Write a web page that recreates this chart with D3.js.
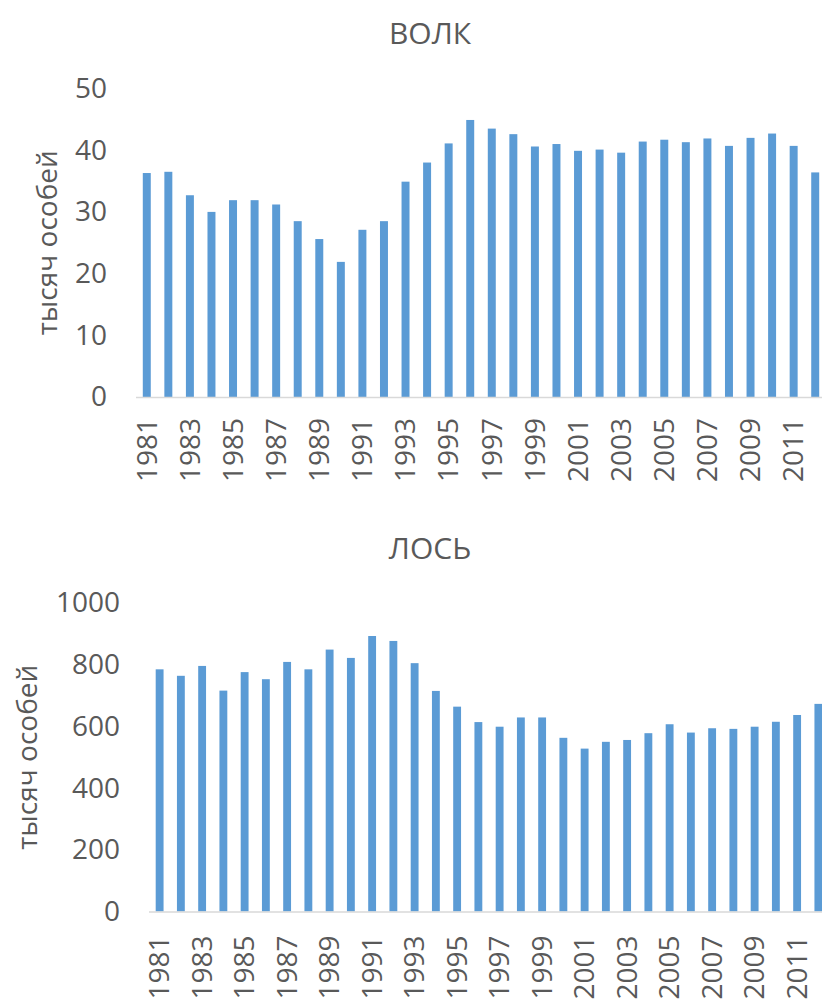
<!DOCTYPE html>
<html>
<head>
<meta charset="utf-8">
<script src="https://cdn.jsdelivr.net/npm/d3@7/dist/d3.min.js"></script>
<style>
  html, body { margin: 0; padding: 0; background: #fff; overflow: hidden; }
  svg { display: block; }
  text { font-family: "Open Sans", "Noto Sans", sans-serif; fill: #595959; }
</style>
</head>
<body>
<svg id="chart" width="822" height="1001"></svg>
<script>
const years = d3.range(1981, 2013).map(String);
const wolfValues = [36.3, 36.5, 32.7, 30.0, 31.9, 31.9, 31.2, 28.5, 25.6, 21.9,
                    27.1, 28.5, 34.9, 38.0, 41.1, 44.9, 43.5, 42.6, 40.6, 41.0,
                    39.9, 40.1, 39.6, 41.4, 41.7, 41.3, 41.9, 40.7, 42.0, 42.7,
                    40.7, 36.4];
const mooseValues = [785, 764, 796, 716, 776, 753, 809, 785, 849, 822,
                     893, 877, 805, 715, 664, 614, 599, 629, 629, 563,
                     528, 550, 556, 578, 607, 580, 594, 592, 599, 615,
                     637, 673];
const wolfTicks = [0, 10, 20, 30, 40, 50];
const mooseTicks = [0, 200, 400, 600, 800, 1000];
const xTickLabels = years.filter((d, i) => i % 2 === 0);
const titles = ["ВОЛК", "ЛОСЬ"];
const yAxisTitle = "тысяч особей";

const svg = d3.select("#chart");
const barColor = "#5B9BD5";

function drawChart(cfg) {
  const g = svg.append("g");
  const x = d3.scaleBand().domain(years).range(cfg.xRange)
    .paddingInner(0.63).paddingOuter(0.315);
  const y = d3.scaleLinear().domain([0, cfg.max]).range(cfg.yRange);

  // title
  g.append("text")
    .attr("x", cfg.titleX).attr("y", cfg.titleY)
    .attr("text-anchor", "middle")
    .style("font-size", "30px")
    .text(cfg.title);

  // y axis title
  const yMid = (cfg.yRange[0] + cfg.yRange[1]) / 2;
  g.append("text")
    .attr("transform", `translate(${cfg.yTitleX},${yMid}) rotate(-90)`)
    .attr("text-anchor", "middle")
    .style("font-size", "28px")
    .text(yAxisTitle);

  // y tick labels (no axis line)
  const yAxis = d3.axisLeft(y).tickValues(cfg.ticks).tickFormat(d3.format("d"))
    .tickSize(0).tickPadding(29);
  const ya = g.append("g").attr("transform", `translate(${cfg.xRange[0]},0)`).call(yAxis);
  ya.select(".domain").remove();
  ya.selectAll("text").style("font-size", "28px").attr("fill", "#595959")
    .style("font-family", '"Open Sans", sans-serif');

  // bars
  const bw = x.bandwidth();
  g.selectAll("rect.bar").data(cfg.values).enter().append("rect")
    .attr("class", "bar")
    .attr("x", (d, i) => x(years[i]))
    .attr("width", bw)
    .attr("y", d => y(d))
    .attr("height", d => y(0) - y(d))
    .attr("fill", barColor);

  // x axis line
  g.append("line")
    .attr("x1", cfg.xRange[0]).attr("x2", cfg.xRange[1])
    .attr("y1", y(0) + 0.5).attr("y2", y(0) + 0.5)
    .attr("stroke", "#D9D9D9").attr("stroke-width", 1.5);

  // x tick labels
  const xAxis = d3.axisBottom(x).tickValues(xTickLabels).tickSize(0).tickPadding(0);
  const xa = g.append("g").attr("transform", `translate(0,${y(0)})`).call(xAxis);
  xa.select(".domain").remove();
  xa.selectAll("text")
    .style("font-size", "28px")
    .style("font-family", '"Open Sans", sans-serif')
    .attr("fill", "#595959")
    .attr("text-anchor", "end")
    .attr("dy", "0.35em")
    .attr("transform", `translate(0,${cfg.xLabelGap}) rotate(-90)`)
    .attr("y", 0).attr("x", 0);
}

drawChart({
  title: titles[0], titleX: 430, titleY: 44,
  values: wolfValues, max: 50, ticks: wolfTicks,
  xRange: [136, 826], yRange: [397, 88.5],
  yTitleX: 57, xLabelGap: 21
});
drawChart({
  title: titles[1], titleX: 430, titleY: 559,
  values: mooseValues, max: 1000, ticks: mooseTicks,
  xRange: [149, 829], yRange: [911.5, 603],
  yTitleX: 37, xLabelGap: 24
});
</script>
</body>
</html>
